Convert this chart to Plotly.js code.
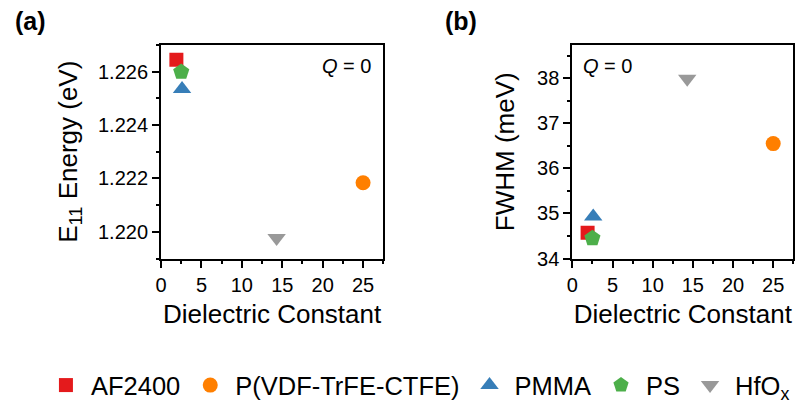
<!DOCTYPE html>
<html>
<head>
<meta charset="utf-8">
<script src="https://cdn.plot.ly/plotly-3.0.1.min.js"></script>
<style>html,body{margin:0;padding:0;background:#fff;}#chart{width:798px;height:409px;}</style>
</head>
<body>
<div id="chart"></div>
<script>
// Data
const materials = ["AF2400", "P(VDF-TrFE-CTFE)", "PMMA", "PS", "HfO<sub>x</sub>"];
const dielectric = [1.9, 25, 2.6, 2.5, 14.3];
const e11Energy = [1.22644, 1.22184, 1.22535, 1.22599, 1.21977];
const fwhm = [34.57, 36.55, 34.93, 34.45, 37.99];
const colors = ["#e41a1c", "#ff7f00", "#377eb8", "#4daf4a", "#999999"];
const symbols = ["square", "circle", "triangle-up", "pentagon", "triangle-down"];
const sizes = [14, 15, 16, 17, 16];

const FONT = "Liberation Sans, Arial, sans-serif";
const traces = [];
for (let i = 0; i < materials.length; i++) {
  traces.push({
    type: "scatter", mode: "markers", name: materials[i],
    x: [dielectric[i]], y: [e11Energy[i]], xaxis: "x", yaxis: "y",
    marker: {symbol: symbols[i], color: colors[i], size: sizes[i], line: {width: 0}},
    legendgroup: materials[i], showlegend: true
  });
}
for (let i = 0; i < materials.length; i++) {
  traces.push({
    type: "scatter", mode: "markers", name: materials[i],
    x: [dielectric[i]], y: [fwhm[i]], xaxis: "x2", yaxis: "y2",
    marker: {symbol: symbols[i], color: colors[i], size: sizes[i], line: {width: 0}},
    legendgroup: materials[i], showlegend: false
  });
}

const common = {
  showline: true, linecolor: "#000", linewidth: 2, mirror: true,
  ticks: "outside", ticklen: 7, tickwidth: 2, tickcolor: "#000",
  showgrid: false, zeroline: false,
  tickfont: {family: FONT, size: 20, color: "#000"},
};
const xcommon = Object.assign({}, common, {
  range: [0, 27.5], tick0: 0, dtick: 5,
  minor: {dtick: 2.5, ticklen: 3.5, tickwidth: 2, tickcolor: "#000", ticks: "outside", showgrid: false},
  title: {text: "Dielectric Constant", font: {family: FONT, size: 26, color: "#000"}, standoff: 10},
});

const layout = {
  width: 798, height: 409,
  margin: {l: 0, r: 0, t: 0, b: 0},
  paper_bgcolor: "#fff", plot_bgcolor: "#fff",
  font: {family: FONT, color: "#000"},
  showlegend: true,
  legend: {
    orientation: "h", x: 0.0513, xanchor: "left", y: 0.023, yanchor: "middle",
    font: {family: FONT, size: 25.5, color: "#000"}, itemwidth: 40,
    bgcolor: "rgba(0,0,0,0)", borderwidth: 0
  },
  xaxis: Object.assign({}, xcommon, {domain: [0.2018, 0.4803], anchor: "y"}),
  yaxis: Object.assign({}, common, {
    domain: [0.3455, 0.8863], anchor: "x",
    range: [1.219, 1.227], tick0: 1.220, dtick: 0.002, tickformat: ".3f",
    minor: {dtick: 0.001, ticklen: 3.5, tickwidth: 2, tickcolor: "#000", ticks: "outside", showgrid: false},
    title: {text: "E<sub>11</sub> Energy (eV)", font: {family: FONT, size: 26, color: "#000"}, standoff: 13}
  }),
  xaxis2: Object.assign({}, xcommon, {domain: [0.7172, 0.9941], anchor: "y2"}),
  yaxis2: Object.assign({}, common, {
    domain: [0.3455, 0.8863], anchor: "x2",
    range: [34, 38.74], tick0: 34, dtick: 1,
    minor: {dtick: 0.5, ticklen: 3.5, tickwidth: 2, tickcolor: "#000", ticks: "outside", showgrid: false},
    title: {text: "FWHM (meV)", font: {family: FONT, size: 26, color: "#000"}, standoff: 15}
  }),
  annotations: [
    {xref: "paper", yref: "paper", x: 13/798, y: 1 - 21.5/409, xanchor: "left", yanchor: "middle",
     text: "<b>(a)</b>", showarrow: false, font: {family: FONT, size: 25, color: "#000"}},
    {xref: "paper", yref: "paper", x: 443/798, y: 1 - 21.5/409, xanchor: "left", yanchor: "middle",
     text: "<b>(b)</b>", showarrow: false, font: {family: FONT, size: 25, color: "#000"}},
    {xref: "x domain", yref: "y domain", x: 0.955, y: 0.9, xanchor: "right", yanchor: "middle",
     text: "<i>Q</i> = 0", showarrow: false, font: {family: FONT, size: 20, color: "#000"}},
    {xref: "x2 domain", yref: "y2 domain", x: 0.04, y: 0.9, xanchor: "left", yanchor: "middle",
     text: "<i>Q</i> = 0", showarrow: false, font: {family: FONT, size: 20, color: "#000"}}
  ]
};

Plotly.newPlot("chart", traces, layout, {staticPlot: true, displayModeBar: false});
</script>
</body>
</html>
